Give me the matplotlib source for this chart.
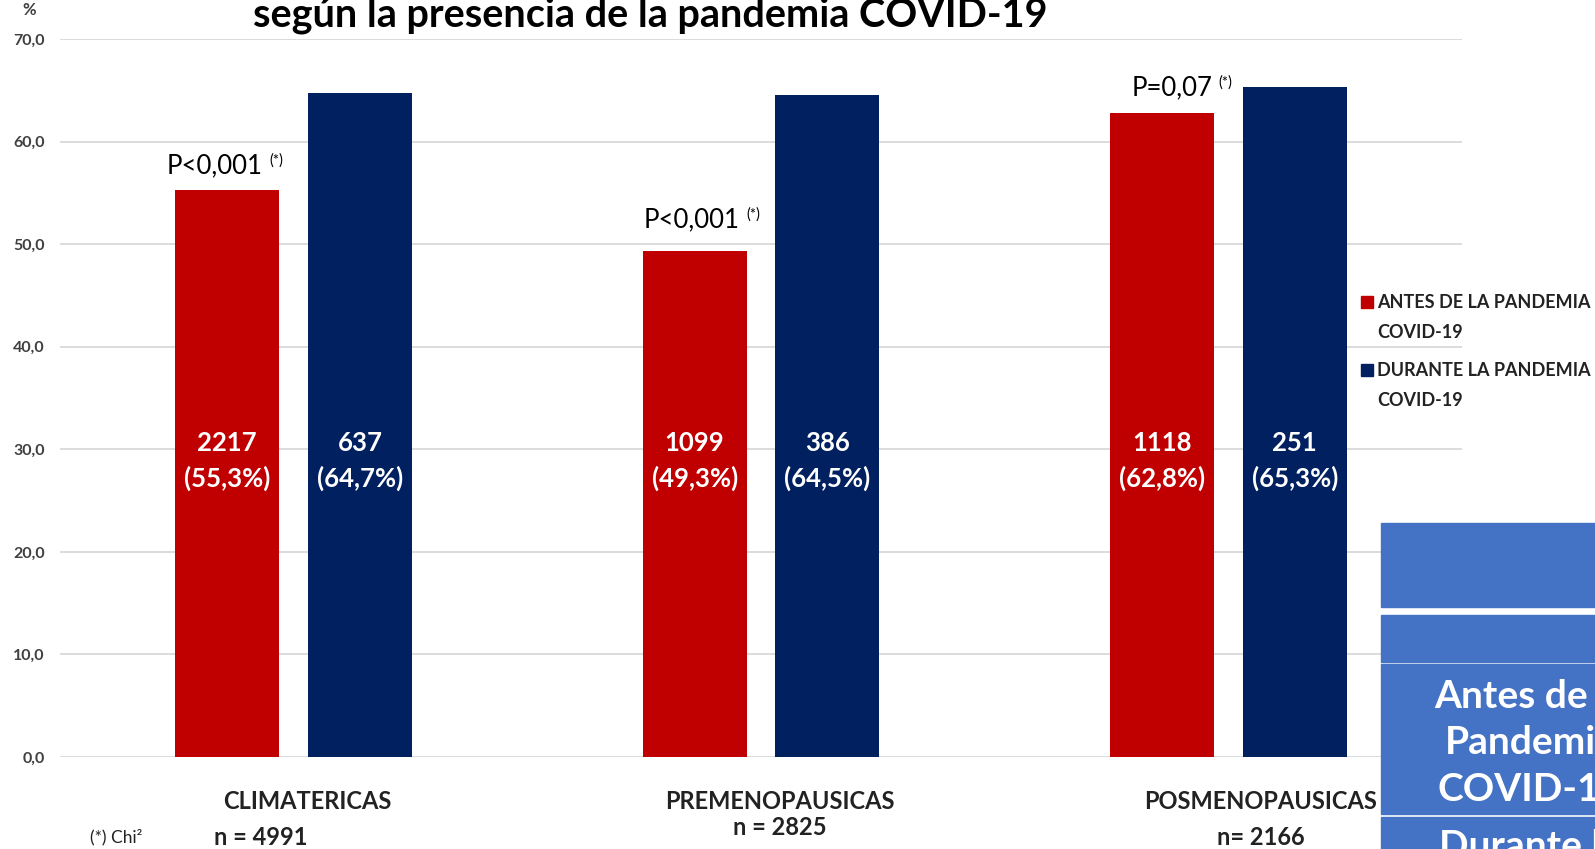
import matplotlib
matplotlib.use("Agg")
import matplotlib.pyplot as plt
from matplotlib.patches import Rectangle
from matplotlib.ticker import FuncFormatter
import numpy as np

plt.rcParams['font.family'] = ['Lato', 'DejaVu Sans']

# Data
categories = ["CLIMATERICAS", "PREMENOPAUSICAS", "POSMENOPAUSICAS"]
n_totals = ["n = 4991", "n = 2825", "n= 2166"]
antes_pct = [55.3, 49.3, 62.8]
durante_pct = [64.7, 64.5, 65.3]
antes_n = [2217, 1099, 1118]
durante_n = [637, 386, 251]
p_values = ["P<0,001", "P<0,001", "P=0,07"]
series_names = ["ANTES DE LA PANDEMIA\nCOVID-19", "DURANTE LA PANDEMIA\nCOVID-19"]
table_rows = ["Antes de la\nPandemia\nCOVID-19", "Durante la\nPandemia\nCOVID-19"]

RED = "#C00000"
NAVY = "#002060"
TABLE_BLUE = "#4472C4"
W, H = 1595, 849


def fx(px):
    return px / W


def fy(py):
    return 1 - py / H


fig = plt.figure(figsize=(W / 100, H / 100), dpi=100)
ax = fig.add_axes([fx(60), fy(757), fx(1462) - fx(60), fy(39) - fy(757)])

x = np.arange(len(categories))
width = 0.222
off = 0.142
ax.bar(x - off, antes_pct, width, color=RED, zorder=3)
ax.bar(x + off, durante_pct, width, color=NAVY, zorder=3)

ax.set_xlim(-0.5, 2.5)
ax.set_ylim(0, 70)
ax.set_yticks(np.arange(0, 71, 10))
ax.yaxis.set_major_formatter(FuncFormatter(lambda v, _: f"{v:.1f}".replace('.', ',')))
ax.tick_params(axis='y', length=0, pad=11, labelsize=11.5, labelcolor='#404040')
for lbl in ax.get_yticklabels():
    lbl.set_fontweight('bold')
ax.set_xticks([])
ax.grid(axis='y', color='#D9D9D9', linewidth=1.3, zorder=0)
for s in ax.spines.values():
    s.set_visible(False)

# counts + percentages inside the bars
for i in range(len(categories)):
    for xpos, n, pct in [(x[i] - off, antes_n[i], antes_pct[i]),
                         (x[i] + off, durante_n[i], durante_pct[i])]:
        ax.text(xpos, 28.9, f"{n}\n({pct:.1f}%)".replace('.', ','),
                ha='center', va='center', color='white', fontsize=18.5,
                fontweight='bold', linespacing=1.5, zorder=4)

# p-value annotations
p_x = [-0.066, 0.955, 1.966]
p_y = [56.9, 51.6, 64.5]
for i, txt in enumerate(p_values):
    ax.text(p_x[i], p_y[i], txt, ha='right', va='baseline', fontsize=18.5, color='black')
    ax.annotate("(*)", xy=(p_x[i], p_y[i]), xytext=(4.5, 14.5), textcoords='offset points',
                ha='left', va='top', fontsize=10.5, color='black')

# category labels and sample sizes
cat_x = [0.03, 1.04, 2.07]
n_x = [-0.07, 1.04, 2.07]
n_y = [-7.8, -6.9, -7.8]
for i, cat in enumerate(categories):
    ax.text(cat_x[i], -4.3, cat, ha='center', va='center', fontsize=17,
            fontweight='bold', color='#222222', clip_on=False)
    ax.text(n_x[i], n_y[i], n_totals[i], ha='center', va='center', fontsize=17,
            fontweight='bold', color='#222222', clip_on=False)
fig.text(fx(90), fy(837), "(*) Chi²", ha='left', va='center', fontsize=12.5, color='#222222')

fig.text(fx(22), fy(10), "%", ha='left', va='center', fontsize=12,
         fontweight='bold', color='#404040')
fig.text(fx(650), fy(26), "según la presencia de la pandemia COVID-19", ha='center',
         va='baseline', fontsize=28.5, fontweight='bold', color='black')

# legend drawn by hand so the marker sits on the first line
for color, name, y0 in [(RED, series_names[0], 302), (NAVY, series_names[1], 370)]:
    fig.add_artist(Rectangle((fx(1361), fy(y0 + 6)), fx(12), 12 / H,
                             transform=fig.transFigure, color=color))
    for k, line in enumerate(name.split("\n")):
        fig.text(fx(1377), fy(y0 + 30 * k), line, ha='left', va='center',
                 fontsize=13, fontweight='bold', color='#222222')

# leftover table on the right edge
cells = [(523, 607), (615, 662), (664, 814), (817, 900)]
for top, bottom in cells:
    fig.add_artist(Rectangle((fx(1381), fy(bottom)), fx(300), (bottom - top) / H,
                             transform=fig.transFigure, color=TABLE_BLUE))
fig.text(fx(1530), fy(743), table_rows[0], ha='center', va='center', fontsize=28,
         fontweight='bold', color='white', linespacing=1.4)
fig.text(fx(1530), fy(893), table_rows[1], ha='center', va='center', fontsize=28,
         fontweight='bold', color='white', linespacing=1.4)

fig.savefig("out.png", dpi=100)
